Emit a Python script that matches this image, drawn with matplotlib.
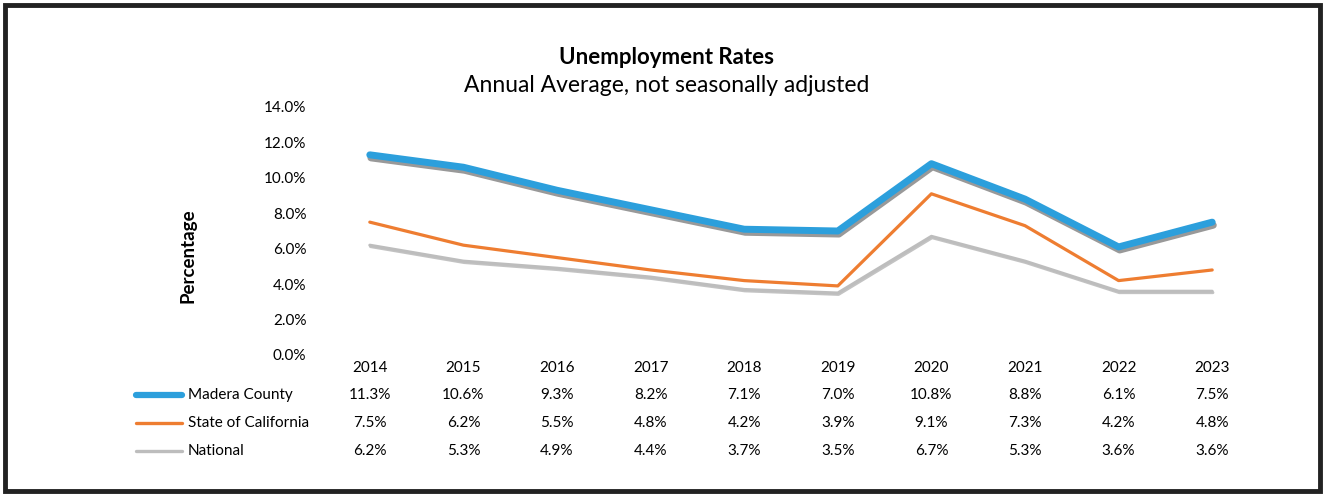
import matplotlib
matplotlib.use("Agg")
import matplotlib.pyplot as plt
import matplotlib.patheffects as pe
from matplotlib.lines import Line2D
from matplotlib.patches import Rectangle
from matplotlib.transforms import blended_transform_factory

years = [2014, 2015, 2016, 2017, 2018, 2019, 2020, 2021, 2022, 2023]
madera = [11.3, 10.6, 9.3, 8.2, 7.1, 7.0, 10.8, 8.8, 6.1, 7.5]
california = [7.5, 6.2, 5.5, 4.8, 4.2, 3.9, 9.1, 7.3, 4.2, 4.8]
national = [6.2, 5.3, 4.9, 4.4, 3.7, 3.5, 6.7, 5.3, 3.6, 3.6]
series_names = ["Madera County", "State of California", "National"]
colors = ["#2c9fdc", "#ee7d31", "#bdbdbd"]

plt.rcParams['font.family'] = ['Lato', 'DejaVu Sans']

W, H = 1325, 499
fig = plt.figure(figsize=(W / 100, H / 100), dpi=100)

def fy(py):
    return (H - py) / H

def fx(px):
    return px / W

# outer frame of the scanned page
fig.patches.append(Rectangle((fx(5), fy(491)), fx(1315), (486) / H,
                             transform=fig.transFigure, fill=False,
                             edgecolor="#222222", linewidth=3.5))

ax = fig.add_axes([fx(323), fy(355), fx(1259 - 323), (355 - 107) / H])
x = list(range(len(years)))

shadow = [pe.SimpleLineShadow(offset=(0.8, -2.2), shadow_color="#555555", alpha=0.6),
          pe.Normal()]
ax.plot(x, national, color=colors[2], lw=2.2, solid_capstyle="round",
        path_effects=[pe.SimpleLineShadow(offset=(0.5, -1), shadow_color="#888888", alpha=0.5), pe.Normal()])
ax.plot(x, california, color=colors[1], lw=2.3, solid_capstyle="round")
ax.plot(x, madera, color=colors[0], lw=5, solid_capstyle="round", path_effects=shadow)

ax.set_xlim(-0.5, len(years) - 0.5)
ax.set_ylim(0, 14)
ax.set_yticks([0, 2, 4, 6, 8, 10, 12, 14])
ax.set_yticklabels([f"{v:.1f}%" for v in ax.get_yticks()], fontsize=11)
ax.set_xticks([])
ax.tick_params(axis="y", length=0, pad=12)
for s in ax.spines.values():
    s.set_visible(False)

ax.set_ylabel("Percentage", fontsize=13.5, fontweight="bold")
ax.yaxis.set_label_coords(-0.135, 0.40)

fig.text(fx(667), fy(57), "Unemployment Rates", ha="center", va="center",
         fontsize=16, fontweight="bold")
fig.text(fx(667), fy(86), "Annual Average, not seasonally adjusted", ha="center",
         va="center", fontsize=16.5)

# data table under the chart
tr = blended_transform_factory(ax.transData, fig.transFigure)
row_y = [368, 395, 423, 451]
for i, yr in enumerate(years):
    fig.text(i, fy(row_y[0]), str(yr), transform=tr, ha="center", va="center", fontsize=11)
for r, (name, vals, c) in enumerate(zip(series_names, [madera, california, national], colors)):
    yy = fy(row_y[r + 1])
    lw = [4.5, 2.4, 2.4][r]
    fig.add_artist(Line2D([fx(136), fx(182)], [yy, yy], transform=fig.transFigure,
                          color=c, lw=lw, solid_capstyle="round"))
    fig.text(fx(188), yy, name, ha="left", va="center", fontsize=11)
    for i, v in enumerate(vals):
        fig.text(i, yy, f"{v:.1f}%", transform=tr, ha="center", va="center", fontsize=11)

fig.savefig("out.png", dpi=100)
